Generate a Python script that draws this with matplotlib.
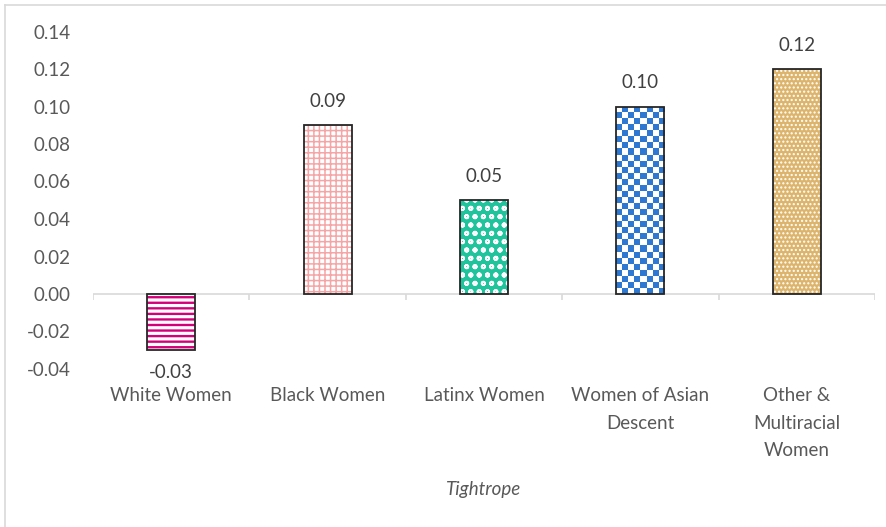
import numpy as np
import matplotlib
matplotlib.use("Agg")
import matplotlib.pyplot as plt
from matplotlib.lines import Line2D

plt.rcParams['font.family'] = ['Lato', 'DejaVu Sans']

categories = ["White Women", "Black Women", "Latinx Women",
              "Women of Asian\nDescent", "Other &\nMultiracial\nWomen"]
values = [-0.03, 0.09, 0.05, 0.10, 0.12]
value_labels = ["-0.03", "0.09", "0.05", "0.10", "0.12"]
y_ticks = [-0.04, -0.02, 0.00, 0.02, 0.04, 0.06, 0.08, 0.10, 0.12, 0.14]
axis_title = "Tightrope"

# fill, pattern colour, hatch per bar (checker one is done with an image)
faces = ["white", "white", "#1FC39C", "white", "#DDB46C"]
pattern_colors = ["#D4007A", "#F5A5A5", "white", "#2E78D2", "white"]
hatches = ["---", "+++", "oo", None, "...."]
hatch_lw = [1.7, 1.1, 1.3, 0, 1.0]

fig = plt.figure(figsize=(8.87, 5.27), dpi=100)
ax = fig.add_axes([93/887, 1-369/527, (875-93)/887, (369-31.5)/527])

x = np.arange(len(categories))
width = 0.307
ax.set_xlim(-0.5, len(categories) - 0.5)
ax.set_ylim(-0.04, 0.14)

for i, v in enumerate(values):
    if hatches[i] is not None:
        plt.rcParams['hatch.linewidth'] = hatch_lw[i]
        ax.bar(x[i], v, width, color=faces[i], edgecolor=pattern_colors[i],
               linewidth=0, hatch=hatches[i], zorder=2)
    else:
        b = ax.bar(x[i], v, width, color="white", linewidth=0, zorder=2)[0]
        # checkerboard fill
        p0 = ax.transData.transform((x[i] - width/2, 0))
        p1 = ax.transData.transform((x[i] + width/2, v))
        ncol = 8
        nrow = int(round(ncol * abs(p1[1] - p0[1]) / abs(p1[0] - p0[0])))
        board = (np.add.outer(np.arange(nrow), np.arange(ncol)) % 2).astype(float)
        cmap = matplotlib.colors.ListedColormap(["white", pattern_colors[i]])
        im = ax.imshow(board, cmap=cmap, interpolation="nearest", aspect="auto",
                       extent=(x[i] - width/2, x[i] + width/2, 0, v), zorder=2.5)
        im.set_clip_path(b)
    ax.bar(x[i], v, width, fill=False, edgecolor="#262626", linewidth=1.3, zorder=3)

    off = 17 if v >= 0 else -16
    ax.annotate(value_labels[i], (x[i], v), xytext=(0, off), textcoords="offset points",
                ha="center", va="center", fontsize=13.5, color="#404040")

ax.set_xlim(-0.5, len(categories) - 0.5)
ax.set_ylim(-0.04, 0.14)

# category axis at zero
ax.axhline(0, color="#D9D9D9", linewidth=1.2, zorder=1)
bounds = np.arange(len(categories) + 1) - 0.5
ax.vlines(bounds, -0.003, 0, color="#D9D9D9", linewidth=1.2, zorder=1)

for s in ax.spines.values():
    s.set_visible(False)
ax.set_yticks(y_ticks)
ax.set_yticklabels([f"{t:.2f}" for t in y_ticks])
ax.tick_params(axis="y", length=0, pad=16, labelsize=13.5, labelcolor="#595959")
ax.set_xticks(x)
ax.set_xticklabels(categories, linespacing=1.75)
ax.tick_params(axis="x", length=0, pad=13, labelsize=13.5, labelcolor="#595959")
ax.set_xlabel(axis_title, fontsize=13.5, style="italic", color="#595959", labelpad=16)

# chart border (cropped at right and bottom)
fig.add_artist(Line2D([5/887, 5/887], [0, 1-5/527], color="#D9D9D9", linewidth=1.2))
fig.add_artist(Line2D([5/887, 1], [1-5/527, 1-5/527], color="#D9D9D9", linewidth=1.2))

fig.savefig("out.png", dpi=100, facecolor="white")
